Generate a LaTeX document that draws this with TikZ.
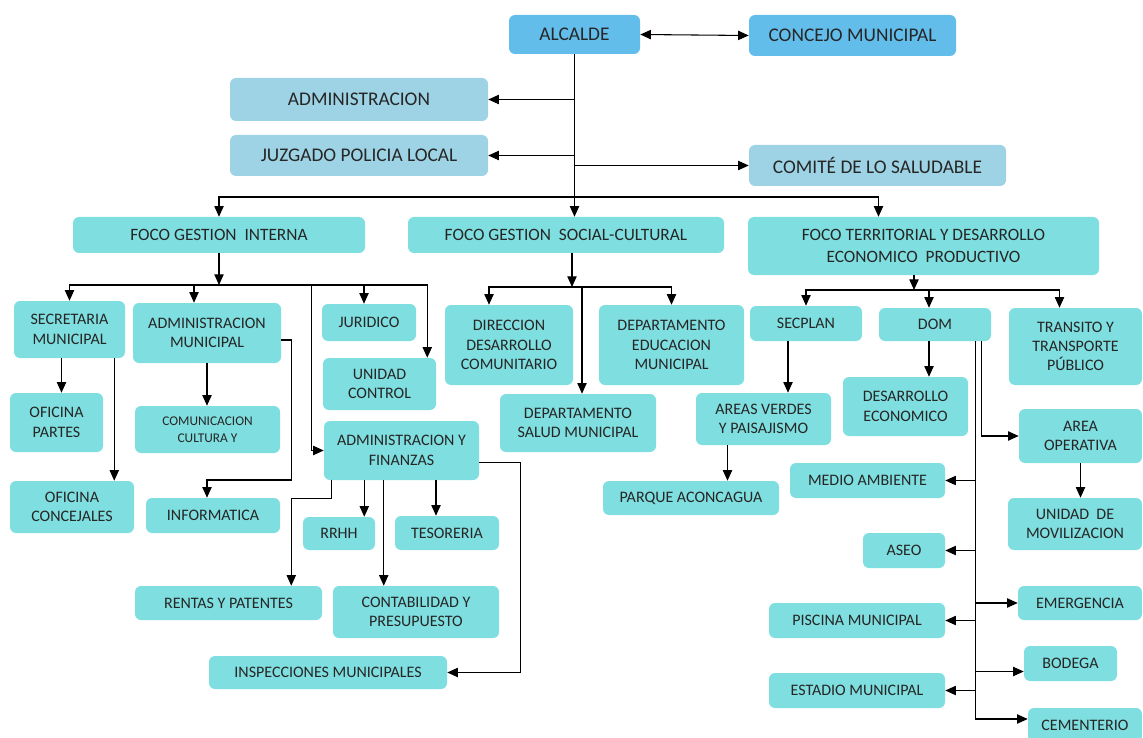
\documentclass[tikz,border=0pt]{standalone}
\usepackage{fontspec}
\setmainfont{Carlito}
\usepackage{xcolor}
\usetikzlibrary{arrows.meta,calc}

\definecolor{alcblue}{HTML}{62BDEB}
\definecolor{admblue}{HTML}{9DD3E4}
\definecolor{turq}{HTML}{7FDEDF}
\definecolor{txtgray}{HTML}{262626}

\begin{document}
\begin{tikzpicture}[x=0.75pt,y=0.75pt,yscale=-1,xscale=1,
  >={Triangle[length=8pt,width=7pt]},
  orgbox/.style={rounded corners=4.5pt, inner sep=1pt, align=center, text=txtgray, font=\fontsize{12}{14.5}\selectfont},
  topbox/.style={orgbox, fill=alcblue, font=\fontsize{14.5}{17}\selectfont},
  sidebox/.style={orgbox, fill=admblue, font=\fontsize{14.5}{17}\selectfont},
  focobox/.style={orgbox, fill=turq, font=\fontsize{13}{16}\selectfont},
  unitbox/.style={orgbox, fill=turq},
  wh/.style 2 args={minimum width=#1*0.75pt, minimum height=#2*0.75pt},
  conn/.style={line width=0.8pt, ->},
]
\useasboundingbox (0,0) rectangle (1143,738);

% Text Node
\node [topbox, wh={131}{39}] (alcalde) at (574.5,34.5) {ALCALDE};
% Text Node
\node [topbox, wh={207}{41}] (concejo) at (852.5,35.5) {CONCEJO MUNICIPAL};
% Text Node
\node [sidebox, wh={258}{43}] (admin) at (359,99.5) {ADMINISTRACION};
% Text Node
\node [sidebox, wh={258}{41}] (juzgado) at (359,155.5) {JUZGADO POLICIA LOCAL};
% Text Node
\node [sidebox, wh={257}{41}] (comite) at (877.5,165.5) {COMITÉ DE LO SALUDABLE};

% Text Node
\node [focobox, wh={292}{36}] (fgi) at (219,235) {FOCO GESTION\ \ INTERNA};
% Text Node
\node [focobox, wh={316}{36}] (fgs) at (566,235) {FOCO GESTION\ \ SOCIAL-CULTURAL};
% Text Node
\node [focobox, wh={351}{58}] (fte) at (923.5,246) {FOCO TERRITORIAL Y DESARROLLO\\ECONOMICO\ \ PRODUCTIVO};

% Text Node
\node [unitbox, wh={111}{57}] (secmun) at (69.5,329.5) {SECRETARIA\\MUNICIPAL};
\node [unitbox, wh={148}{60}] (admmun) at (207,333) {ADMINISTRACION\\MUNICIPAL};
\node [unitbox, wh={94}{37}] (juridico) at (369,322.5) {JURIDICO};
\node [unitbox, wh={113}{52}] (unicontrol) at (379.5,384) {UNIDAD\\CONTROL};
\node [unitbox, wh={93}{59}] (ofpartes) at (56.5,422.5) {OFICINA\\PARTES};
\node [unitbox, wh={145}{47}, font=\fontsize{10}{12.5}\selectfont] (comunic) at (207.5,429.5) {COMUNICACION\\CULTURA Y};
\node [unitbox, wh={155}{59}] (admfin) at (401.5,450.5) {ADMINISTRACION Y\\FINANZAS};
\node [unitbox, wh={124}{52}] (ofconc) at (72,507) {OFICINA\\CONCEJALES};
\node [unitbox, wh={134}{35}] (informatica) at (213,515.5) {INFORMATICA};
\node [unitbox, wh={72}{33}] (rrhh) at (339,533.5) {RRHH};
\node [unitbox, wh={104}{34}] (tesoreria) at (447,533) {TESORERIA};
\node [unitbox, wh={187}{34}] (rentas) at (228.5,603) {RENTAS Y PATENTES};
\node [unitbox, wh={166}{52}] (contab) at (416,612) {CONTABILIDAD Y\\PRESUPUESTO};
\node [unitbox, wh={238}{33}] (inspec) at (328,672.5) {INSPECCIONES MUNICIPALES};

% Text Node
\node [unitbox, wh={128}{80}] (dideco) at (509,345) {DIRECCION\\DESARROLLO\\COMUNITARIO};
\node [unitbox, wh={145}{80}] (educ) at (671.5,345) {DEPARTAMENTO\\EDUCACION\\MUNICIPAL};
\node [unitbox, wh={156}{58}] (salud) at (578,423) {DEPARTAMENTO\\SALUD MUNICIPAL};

% Text Node
\node [unitbox, wh={112}{35}] (secplan) at (806,323.5) {SECPLAN};
\node [unitbox, wh={112}{33}] (dom) at (935,324.5) {DOM};
\node [unitbox, wh={133}{77}] (transito) at (1075.5,346.5) {TRANSITO Y\\TRANSPORTE\\PÚBLICO};
\node [unitbox, wh={135}{52}] (areasv) at (763.5,419) {AREAS VERDES\\Y PAISAJISMO};
\node [unitbox, wh={176}{34}] (parque) at (691,498) {PARQUE ACONCAGUA};
\node [unitbox, wh={125}{59}] (deseco) at (905.5,406.5) {DESARROLLO\\ECONOMICO};
\node [unitbox, wh={123}{54}] (areaop) at (1080.5,436) {AREA\\OPERATIVA};
\node [unitbox, wh={134}{52}] (unimov) at (1075,524) {UNIDAD\ \ DE\\MOVILIZACION};
\node [unitbox, wh={155}{35}] (medio) at (867.5,480.5) {MEDIO AMBIENTE};
\node [unitbox, wh={82}{35}] (aseo) at (904,550.5) {ASEO};
\node [unitbox, wh={176}{35}] (piscina) at (857,620.5) {PISCINA MUNICIPAL};
\node [unitbox, wh={176}{35}] (estadio) at (857,690.5) {ESTADIO MUNICIPAL};
\node [unitbox, wh={124}{34}] (emerg) at (1080,603) {EMERGENCIA};
\node [unitbox, wh={93}{35}] (bodega) at (1070.5,663.5) {BODEGA};
\node [unitbox, wh={114}{34}] (cementerio) at (1085,725) {CEMENTERIO};

%Straight Lines
\draw [conn, <->] (alcalde.east) -- (concejo.west);
\draw [conn] (alcalde.south) -- (alcalde.south |- fgs.north);
\draw [conn] (alcalde.south |- admin.east) -- (admin.east);
\draw [conn] (alcalde.south |- juzgado.east) -- (juzgado.east);
\draw [conn] (alcalde.south |- comite.west) -- (comite.west);
\coordinate (bus1) at (574.5,197);
\draw [conn] (bus1) -| (fgi.north);
\draw [conn] (bus1) -| ($(fte.north)+(-45,0)$);

%Straight Lines
\coordinate (bus2) at (219,285);
\draw [conn] (fgi.south) -- (bus2);
\draw [conn] (bus2) -| (secmun.north);
\draw [conn] (bus2) -| ($(admmun.north)+(-13,0)$);
\draw [conn] (bus2) -| ($(juridico.north)+(-5,0)$);
\draw [conn] (bus2) -| ($(unicontrol.north east)+(-9,0)$);
\draw [conn] (bus2) -| ($(admfin.west)+(-12,0)$) -- (admfin.west);
\coordinate (sm1) at ($(secmun.south)+(-8,0)$);
\draw [conn] (sm1) -- (sm1 |- ofpartes.north);
\coordinate (sm2) at ($(secmun.south east)+(-11,0)$);
\draw [conn] (sm2) -- (sm2 |- ofconc.north);
\draw [conn] (admmun.south) -- (admmun.south |- comunic.north);
\draw [conn] ($(admmun.east)+(0,7)$) -| ++(10,140) -| ($(informatica.north)+(-6,0)$);
\draw [conn] ($(admfin.south west)+(8,0)$) -- ++(0,18) -| ($(rentas.north east)+(-31,0)$);
\coordinate (rh) at ($(rrhh.north east)+(-11,0)$);
\draw [conn] (admfin.south -| rh) -- (rh);
\coordinate (ct) at ($(contab.north west)+(51,0)$);
\draw [conn] (admfin.south -| ct) -- (ct);
\coordinate (ts) at ($(tesoreria.north)+(-11,0)$);
\draw [conn] (admfin.south -| ts) -- (ts);
\draw [conn] ($(admfin.east)+(0,12)$) -- ++(41,0) |- (inspec.east);

%Straight Lines
\coordinate (bus3) at (572,287);
\draw [conn] (fgs.south -| bus3) -- (bus3);
\draw [conn] (bus3) -| ($(dideco.north)+(-20,0)$);
\draw [conn] (bus3) -| (educ.north);
\coordinate (sl) at ($(salud.north)+(4,0)$);
\draw [conn] (bus3 -| sl) -- (sl);

%Straight Lines
\coordinate (bus4) at (914,290);
\draw [conn] (fte.south -| bus4) -- (bus4);
\draw [conn] (bus4) -| (secplan.north);
\draw [conn] (bus4) -| ($(dom.north)+(-6,0)$);
\draw [conn] (bus4) -| ($(transito.north)+(-16,0)$);
\coordinate (sv) at ($(secplan.south)+(-18,0)$);
\draw [conn] (sv) -- (sv |- areasv.north);
\coordinate (pv) at ($(areasv.south)+(-36,0)$);
\draw [conn] (pv) -- (pv |- parque.north);
\coordinate (dv) at ($(dom.south)+(-6,0)$);
\draw [conn] (dv) -- (dv |- deseco.north);
\coordinate (d1) at ($(dom.south east)+(-16,0)$);
\draw [conn] (d1) |- ($(cementerio.west)+(0,-6)$);
\draw [conn] ($(dom.south east)+(-10,0)$) |- (areaop.west);
\draw [conn] (d1 |- medio.east) -- (medio.east);
\draw [conn] (d1 |- aseo.east) -- (aseo.east);
\draw [conn] (d1 |- piscina.east) -- (piscina.east);
\draw [conn] (d1 |- estadio.east) -- (estadio.east);
\draw [conn] (d1 |- emerg.west) -- (emerg.west);
\coordinate (bg) at ($(bodega.west)+(0,8)$);
\draw [conn] (d1 |- bg) -- (bg);
\draw [conn] (areaop.south) -- (areaop.south |- unimov.north);

\end{tikzpicture}
\end{document}
